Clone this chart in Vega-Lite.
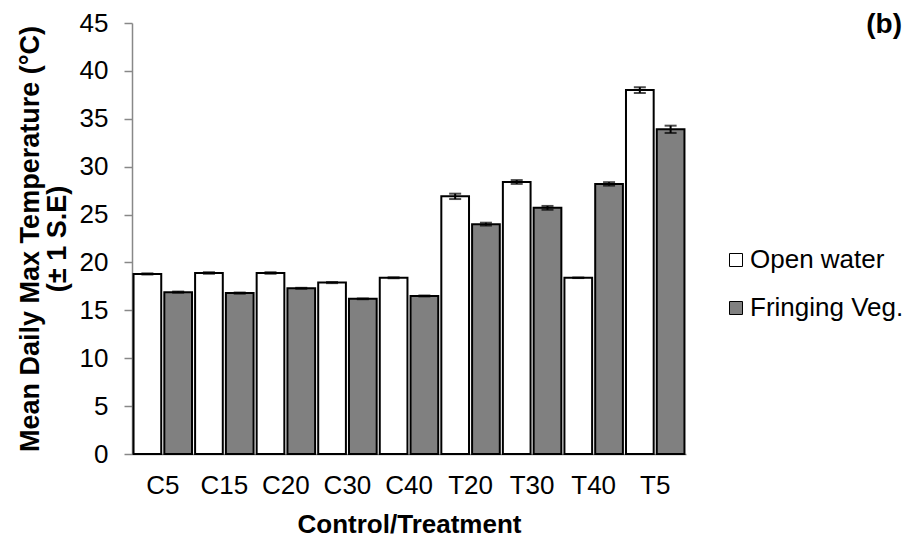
{
  "$schema": "https://vega.github.io/schema/vega-lite/v6.json",
  "width": 554,
  "height": 431,
  "autosize": "none",
  "padding": {"left": 132, "top": 23, "right": 225, "bottom": 88},
  "config": {"font": "Liberation Sans", "view": {"stroke": null}},
  "title": {"text": "(b)", "anchor": "end", "frame": "group", "fontSize": 28, "fontWeight": "bold", "color": "black", "dx": 216, "dy": 31, "offset": -12, "baseline": "middle"},
  "data": {"values": [
    {"category": "C5", "series": "Open water", "mean": 18.8, "se": 0.06},
    {"category": "C5", "series": "Fringing Veg.", "mean": 16.9, "se": 0.06},
    {"category": "C15", "series": "Open water", "mean": 18.9, "se": 0.08},
    {"category": "C15", "series": "Fringing Veg.", "mean": 16.8, "se": 0.06},
    {"category": "C20", "series": "Open water", "mean": 18.9, "se": 0.08},
    {"category": "C20", "series": "Fringing Veg.", "mean": 17.3, "se": 0.05},
    {"category": "C30", "series": "Open water", "mean": 17.9, "se": 0.06},
    {"category": "C30", "series": "Fringing Veg.", "mean": 16.2, "se": 0.04},
    {"category": "C40", "series": "Open water", "mean": 18.4, "se": 0.05},
    {"category": "C40", "series": "Fringing Veg.", "mean": 16.5, "se": 0.05},
    {"category": "T20", "series": "Open water", "mean": 26.9, "se": 0.28},
    {"category": "T20", "series": "Fringing Veg.", "mean": 24.0, "se": 0.15},
    {"category": "T30", "series": "Open water", "mean": 28.4, "se": 0.2},
    {"category": "T30", "series": "Fringing Veg.", "mean": 25.7, "se": 0.2},
    {"category": "T40", "series": "Open water", "mean": 18.4, "se": 0.03},
    {"category": "T40", "series": "Fringing Veg.", "mean": 28.2, "se": 0.18},
    {"category": "T5", "series": "Open water", "mean": 38.0, "se": 0.3},
    {"category": "T5", "series": "Fringing Veg.", "mean": 33.9, "se": 0.38}
  ]},
  "encoding": {
    "x": {"field": "category", "type": "nominal", "sort": ["C5", "C15", "C20", "C30", "C40", "T20", "T30", "T40", "T5"],
      "scale": {"paddingInner": 0, "paddingOuter": 0},
      "axis": {"labelAngle": 0, "ticks": false, "domainColor": "#888888", "domainWidth": 1.5, "labelFontSize": 26, "labelColor": "black", "labelPadding": 18,
        "title": "Control/Treatment", "titleFontSize": 26, "titleFontWeight": "bold", "titleColor": "black", "titlePadding": 13}},
    "xOffset": {"field": "series", "type": "nominal", "sort": ["Open water", "Fringing Veg."], "scale": {"paddingInner": 0.1, "paddingOuter": 0.05}},
    "y": {"field": "mean", "type": "quantitative", "scale": {"domain": [0, 45]},
      "axis": {"values": [0, 5, 10, 15, 20, 25, 30, 35, 40, 45], "grid": false, "domainColor": "#888888", "domainWidth": 1.5, "tickColor": "#888888", "tickWidth": 1.5, "tickSize": 8, "labelFontSize": 26, "labelColor": "black", "labelPadding": 16,
        "title": ["Mean Daily Max Temperature (°C)", "(± 1 S.E)"], "titleFontSize": 27, "titleFontWeight": "bold", "titleColor": "black", "titleLineHeight": 27, "titlePadding": 8}}
  },
  "layer": [
    {
      "mark": {"type": "bar", "stroke": "black", "strokeWidth": 2},
      "encoding": {
        "fill": {"field": "series", "type": "nominal", "sort": ["Open water", "Fringing Veg."],
          "scale": {"domain": ["Open water", "Fringing Veg."], "range": ["#ffffff", "#808080"]},
          "legend": {"title": null, "orient": "none", "legendX": 591, "legendY": 224, "symbolType": "square", "symbolSize": 169, "symbolStrokeColor": "black", "symbolStrokeWidth": 1, "labelFontSize": 26, "labelColor": "black", "labelLimit": 400, "rowPadding": 22, "labelOffset": 1}}
      }
    },
    {
      "mark": {"type": "errorbar", "color": "black", "thickness": 2, "ticks": {"size": 12, "color": "black"}},
      "encoding": {
        "yError": {"field": "se"}
      }
    }
  ]
}
